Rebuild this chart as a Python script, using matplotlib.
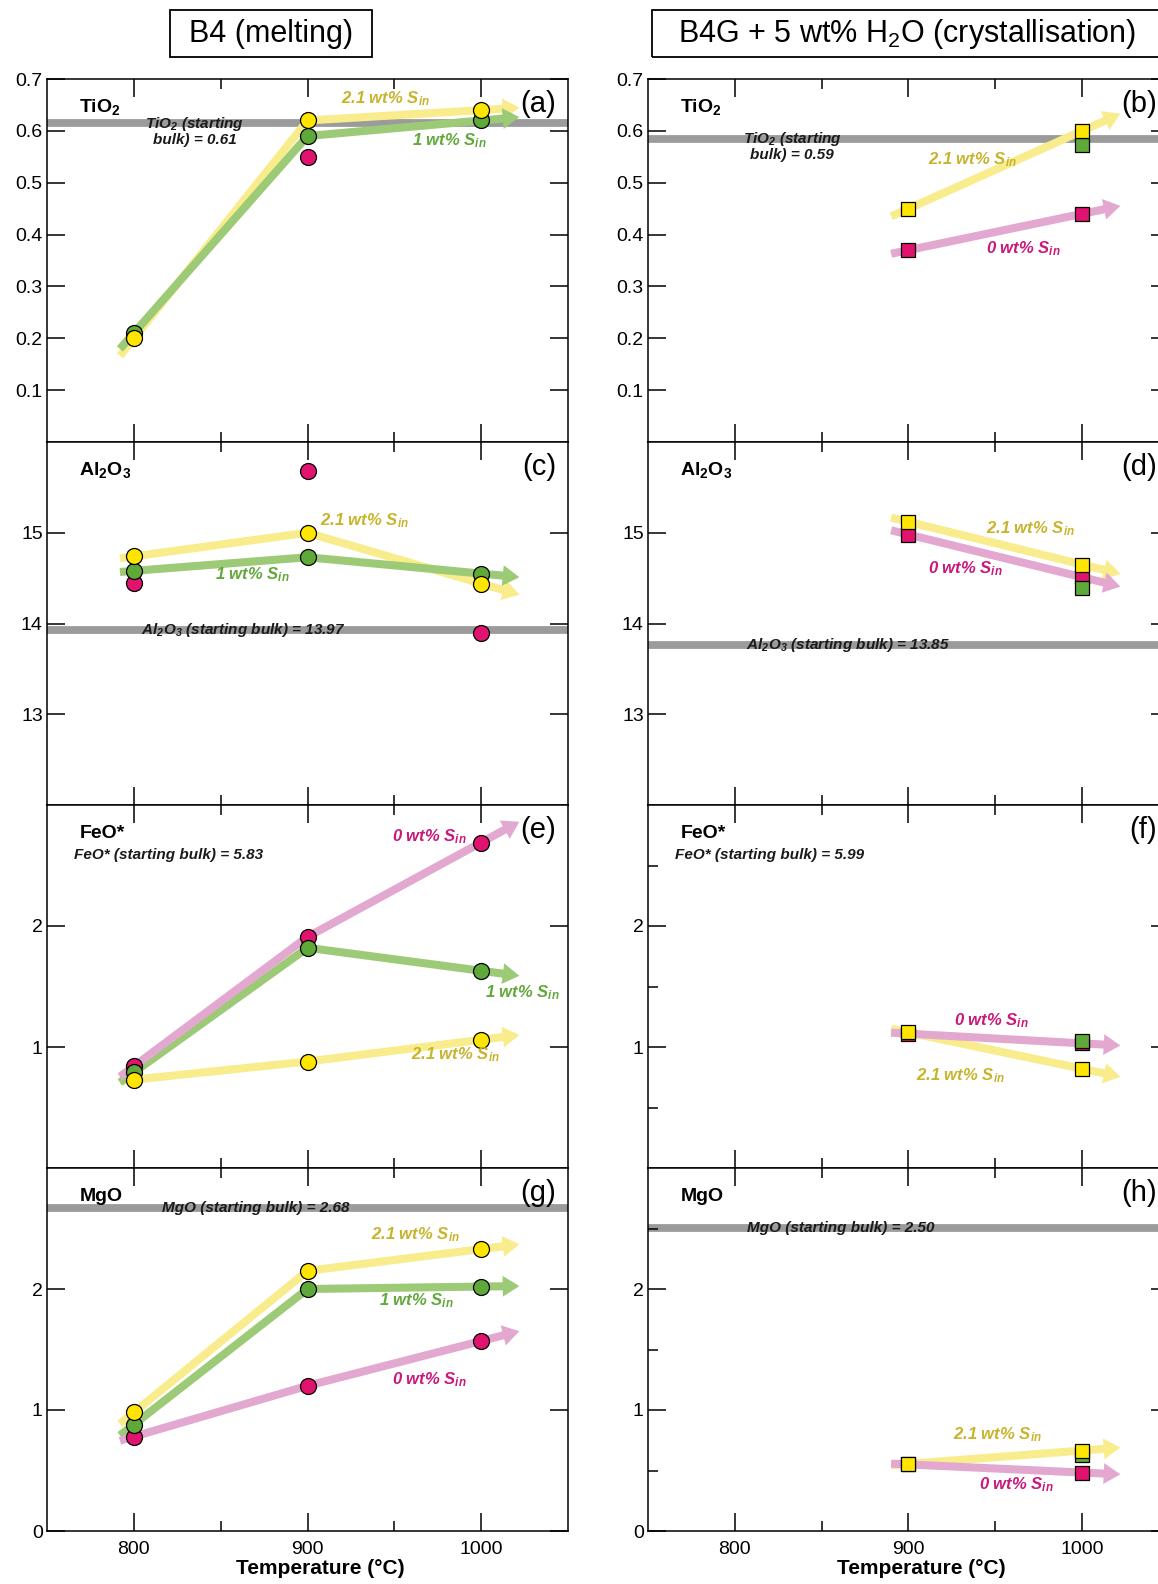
import numpy as np
import matplotlib.pyplot as plt
from matplotlib.patches import FancyArrowPatch, Rectangle

plt.rcParams['font.family'] = ['Liberation Sans', 'DejaVu Sans']
plt.rcParams['mathtext.fontset'] = 'custom'
plt.rcParams['mathtext.rm'] = 'Liberation Sans'
plt.rcParams['mathtext.it'] = 'Liberation Sans:italic'
plt.rcParams['mathtext.bf'] = 'Liberation Sans:bold'
plt.rcParams['mathtext.bfit'] = 'Liberation Sans:italic:bold'

# ---- data (wt%) ----
temps_melt = [800, 900, 1000]
temps_cryst = [900, 1000]

# B4 melting experiments (circles): 2.1, 1 and 0 wt% S_in
tio2_melt_s21 = [0.20, 0.62, 0.64]
tio2_melt_s1 = [0.21, 0.59, 0.62]
tio2_melt_s0 = [np.nan, 0.55, np.nan]
al2o3_melt_s21 = [14.74, 15.00, 14.44]
al2o3_melt_s1 = [14.58, 14.73, 14.55]
al2o3_melt_s0 = [14.45, 15.68, 13.90]
feo_melt_s21 = [0.73, 0.88, 1.06]
feo_melt_s1 = [0.79, 1.82, 1.63]
feo_melt_s0 = [0.84, 1.91, 2.69]
mgo_melt_s21 = [0.98, 2.15, 2.33]
mgo_melt_s1 = [0.88, 2.00, 2.02]
mgo_melt_s0 = [0.78, 1.20, 1.57]

# B4G + 5 wt% H2O crystallisation experiments (squares)
tio2_cryst_s21 = [0.45, 0.60]
tio2_cryst_s1 = [np.nan, 0.573]
tio2_cryst_s0 = [0.37, 0.44]
al2o3_cryst_s21 = [15.12, 14.65]
al2o3_cryst_s1 = [np.nan, 14.39]
al2o3_cryst_s0 = [14.98, 14.51]
feo_cryst_s21 = [1.12, 0.82]
feo_cryst_s1 = [np.nan, 1.05]
feo_cryst_s0 = [1.11, 1.03]
mgo_cryst_s21 = [0.555, 0.665]
mgo_cryst_s1 = [np.nan, 0.63]
mgo_cryst_s0 = [0.55, 0.483]

# starting bulk compositions (drawn lines)
bulk_melt = [0.615, 13.93, None, 2.67]
bulk_cryst = [0.585, 13.76, None, 2.505]

YEL_LINE, YEL_PT, YEL_TXT = '#f8ec8c', '#ffe500', '#c8b42c'
GRN_LINE, GRN_PT, GRN_TXT = '#9dca76', '#5ea93a', '#62a83b'
PNK_LINE, PNK_PT, PNK_TXT = '#e3a8d0', '#e0146f', '#c8197c'
GRAY = '#9b9b9b'


def s_label(val):
    return val + ' wt% S' + r'$_{\mathbfit{in}}$'


def trend(ax, xs, ys, color, back=8, ext=22):
    xs = np.asarray(xs, float)
    ys = np.asarray(ys, float)
    k0 = (ys[1] - ys[0]) / (xs[1] - xs[0])
    k1 = (ys[-1] - ys[-2]) / (xs[-1] - xs[-2])
    lx = np.concatenate([[xs[0] - back], xs])
    ly = np.concatenate([[ys[0] - k0 * back], ys])
    ax.plot(lx, ly, color=color, lw=5.8, solid_capstyle='butt',
            solid_joinstyle='miter', zorder=2)
    arr = FancyArrowPatch((xs[-1], ys[-1]), (xs[-1] + ext, ys[-1] + k1 * ext),
                          arrowstyle='simple,head_length=12,head_width=15,tail_width=5.8',
                          mutation_scale=1, shrinkA=0, shrinkB=0,
                          color=color, lw=0, zorder=2)
    ax.add_patch(arr)


def points(ax, xs, ys, color, marker):
    ms = 11.5 if marker == 'o' else 10.5
    ax.plot(xs, ys, marker, ms=ms, mfc=color, mec='black', mew=0.9, zorder=4)


W, H = 1158, 1584
fig = plt.figure(figsize=(W / 100, H / 100), dpi=100)
col_x = [47, 648]
col_w = 521
row_top, row_h = 79, 363

# titles
fig.add_artist(Rectangle((170 / W, 1 - 57 / H), 202 / W, 47 / H, transform=fig.transFigure,
                         fill=False, lw=1.3, ec='black'))
fig.text(271 / W, 1 - 34 / H, 'B4 (melting)', ha='center', va='center', fontsize=22)
fig.add_artist(Rectangle((652 / W, 1 - 57 / H), 530 / W, 47 / H, transform=fig.transFigure,
                         fill=False, lw=1.3, ec='black'))
fig.text(907 / W, 1 - 34 / H, r'B4G + 5 wt% H$_2$O (crystallisation)', ha='center',
         va='center', fontsize=22)

oxides = [r'TiO$_{\mathbf{2}}$', r'Al$_{\mathbf{2}}$O$_{\mathbf{3}}$', 'FeO*', 'MgO']
letters = [['(a)', '(b)'], ['(c)', '(d)'], ['(e)', '(f)'], ['(g)', '(h)']]
bulk_text_melt = [r'TiO$_{\mathbfit{2}}$ (starting' + '\n' + 'bulk) = 0.61',
                  r'Al$_{\mathbfit{2}}$O$_{\mathbfit{3}}$ (starting bulk) = 13.97',
                  'FeO* (starting bulk) = 5.83',
                  'MgO (starting bulk) = 2.68']
bulk_text_cryst = [r'TiO$_{\mathbfit{2}}$ (starting' + '\n' + 'bulk) = 0.59',
                   r'Al$_{\mathbfit{2}}$O$_{\mathbfit{3}}$ (starting bulk) = 13.85',
                   'FeO* (starting bulk) = 5.99',
                   'MgO (starting bulk) = 2.50']
bulk_pos_melt = [(835, 0.60), (863, 13.93), None, (870, 2.67)]
bulk_pos_cryst = [(833, 0.57), (865, 13.76), None, (861, 2.505)]

ylims = [(0, 0.7), (12, 16), (0, 3), (0, 3)]
yticks = [[0.1, 0.2, 0.3, 0.4, 0.5, 0.6, 0.7], [13, 14, 15], [1, 2], [0, 1, 2]]
ylabels = [['0.1', '0.2', '0.3', '0.4', '0.5', '0.6', '0.7'], ['13', '14', '15'],
           ['1', '2'], ['0', '1', '2']]

melt = [(tio2_melt_s21, tio2_melt_s1, tio2_melt_s0),
        (al2o3_melt_s21, al2o3_melt_s1, al2o3_melt_s0),
        (feo_melt_s21, feo_melt_s1, feo_melt_s0),
        (mgo_melt_s21, mgo_melt_s1, mgo_melt_s0)]
cryst = [(tio2_cryst_s21, tio2_cryst_s1, tio2_cryst_s0),
         (al2o3_cryst_s21, al2o3_cryst_s1, al2o3_cryst_s0),
         (feo_cryst_s21, feo_cryst_s1, feo_cryst_s0),
         (mgo_cryst_s21, mgo_cryst_s1, mgo_cryst_s0)]

# which series get a trend arrow: (2.1, 1, 0)
arrows_melt = [(True, True, False), (True, True, False), (True, True, True), (True, True, True)]
arrows_cryst = [(True, False, True), (True, False, True), (True, False, True), (True, False, True)]

# label positions (T, value) for the S_in annotations
lab_melt = [[(945, 0.662), (982, 0.582), None],
            [(933, 15.13), (868, 14.54), None],
            [(985, 0.94), (1024, 1.45), (970, 2.74)],
            [(962, 2.45), (963, 1.90), (970, 1.25)]]
lab_cryst = [[(937, 0.544), None, (966, 0.373)],
             [(970, 15.04), None, (933, 14.60)],
             [(930, 0.76), None, (948, 1.215)],
             [(951, 0.795), None, (962, 0.38)]]

line_cols = [YEL_LINE, GRN_LINE, PNK_LINE]
pt_cols = [YEL_PT, GRN_PT, PNK_PT]
txt_cols = [YEL_TXT, GRN_TXT, PNK_TXT]
names = ['2.1', '1', '0']

for col in range(2):
    for row in range(4):
        left = col_x[col] / W
        bottom = 1 - (row_top + row_h * (row + 1)) / H
        ax = fig.add_axes([left, bottom, col_w / W, row_h / H])
        ax.set_xlim(750, 1050)
        ax.set_ylim(*ylims[row])
        ax.set_xticks([800, 900, 1000])
        ax.set_xticks([850, 950], minor=True)
        ax.set_yticks(yticks[row])
        ax.set_yticklabels(ylabels[row])
        if col == 1 and row >= 2:
            ax.set_yticks([0.5, 1.5, 2.5], minor=True)
        ax.tick_params(which='both', direction='in', top=True, right=True, width=1.1)
        ax.tick_params(which='major', length=13, labelsize=14)
        ax.tick_params(axis='y', pad=3)
        ax.tick_params(axis='x', pad=7)
        ax.tick_params(which='minor', length=7)
        for sp in ax.spines.values():
            sp.set_linewidth(1.1)
        if row < 3:
            ax.tick_params(labelbottom=False)
        else:
            ax.set_xlabel('Temperature (°C)', fontsize=15, fontweight='bold',
                          labelpad=1, x=0.525)

        if col == 0:
            temps, data, arrows, labs = temps_melt, melt[row], arrows_melt[row], lab_melt[row]
            bulk, btxt, bpos, marker = bulk_melt[row], bulk_text_melt[row], bulk_pos_melt[row], 'o'
        else:
            temps, data, arrows, labs = temps_cryst, cryst[row], arrows_cryst[row], lab_cryst[row]
            bulk, btxt, bpos, marker = bulk_cryst[row], bulk_text_cryst[row], bulk_pos_cryst[row], 's'

        if bulk is not None:
            ax.axhline(bulk, color=GRAY, lw=5.6, zorder=1)
            ax.text(bpos[0], bpos[1], btxt, ha='center', va='center', fontsize=11,
                    fontweight='bold', style='italic', color='#1a1a1a', zorder=5,
                    linespacing=1.0)
        else:
            ax.text(0.052, 0.862, btxt, transform=ax.transAxes, ha='left', va='center',
                    fontsize=11, fontweight='bold', style='italic', color='#1a1a1a')

        back = 8 if col == 0 else 10
        for i in range(3):
            if arrows[i]:
                trend(ax, temps, data[i], line_cols[i], back=back)
        # draw points: 0 wt% first, then 1, then 2.1 on top
        for i in [2, 1, 0]:
            points(ax, temps, data[i], pt_cols[i], marker)
        for i in range(3):
            if labs[i] is not None:
                ax.text(labs[i][0], labs[i][1], s_label(names[i]), color=txt_cols[i],
                        fontsize=12, fontweight='bold', style='italic',
                        ha='center', va='center', zorder=5)

        ax.text(0.062, 0.922, oxides[row], transform=ax.transAxes, ha='left', va='center',
                fontsize=14, fontweight='bold')
        ax.text(0.977, 0.93, letters[row][col], transform=ax.transAxes, ha='right',
                va='center', fontsize=21)

fig.savefig('out.png', dpi=100)
